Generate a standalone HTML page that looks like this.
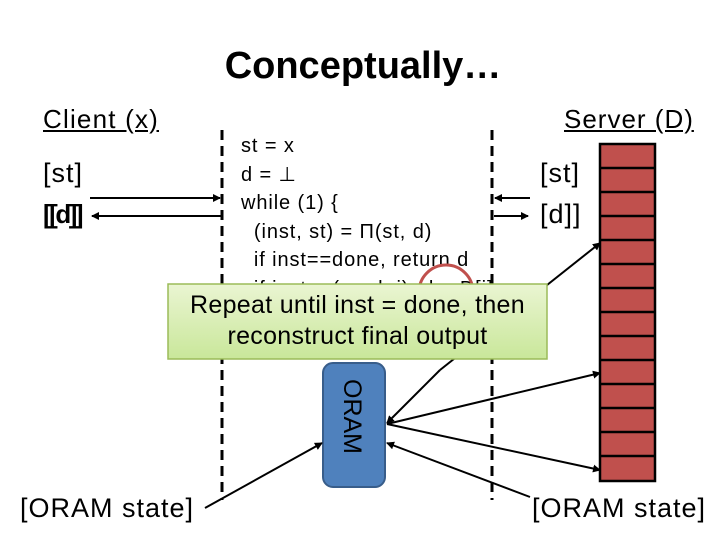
<!DOCTYPE html>
<html><head><style>
body{margin:0;width:720px;height:540px;background:#fff;overflow:hidden;position:relative;font-family:"Liberation Sans",sans-serif;}
.t{position:absolute;white-space:nowrap;color:#000;}
</style></head><body>
<div class="t" style="left:0;width:726px;text-align:center;top:45px;font-size:38px;font-weight:bold;">Conceptually…</div>
<div class="t" style="left:43px;top:104px;font-size:26px;letter-spacing:1.2px;text-decoration:underline;">Client (x)</div>
<div class="t" style="left:564px;top:104px;font-size:26px;letter-spacing:1px;text-decoration:underline;">Server (D)</div>
<div class="t" style="left:43px;top:158px;font-size:27px;letter-spacing:1px;">[st]</div>
<div class="t" style="left:43px;top:199px;font-size:26px;font-weight:bold;letter-spacing:-2.5px;">[[d]]</div>
<div class="t" style="left:540px;top:158px;font-size:27px;letter-spacing:1px;">[st]</div>
<div class="t" style="left:540px;top:199px;font-size:27px;letter-spacing:1px;">[d]]</div>
<div class="t" style="left:241px;top:132px;font-size:20px;letter-spacing:0.9px;line-height:28.5px;">st = x<br>d = ⊥<br>while (1) {<br>&nbsp;&nbsp;(inst, st) = Π(st, d)<br>&nbsp;&nbsp;if inst==done, return d<br>&nbsp;&nbsp;if inst = (read, i), d = D[i]</div>
<div class="t" style="left:20px;top:493px;font-size:27px;letter-spacing:1px;">[ORAM state]</div>
<div class="t" style="left:532px;top:493px;font-size:27px;letter-spacing:1px;">[ORAM state]</div>
<svg width="720" height="540" style="position:absolute;left:0;top:0">
<defs><marker id="a" markerWidth="8" markerHeight="8" refX="7" refY="4" orient="auto" markerUnits="userSpaceOnUse"><path d="M0,0L8,4L0,8z" fill="#000"/></marker></defs>
<circle cx="446" cy="292" r="27" fill="none" stroke="#c0504d" stroke-width="3"/>
<g stroke="#000" stroke-width="3" stroke-dasharray="10,6"><line x1="222" y1="130" x2="222" y2="500"/><line x1="492" y1="130" x2="492" y2="500"/></g>
<g stroke="#000" stroke-width="2" fill="none">
<line x1="90" y1="198" x2="220" y2="198" marker-end="url(#a)"/>
<polyline points="222,216 180,216 92,216" marker-end="url(#a)"/>
<line x1="530" y1="198" x2="495" y2="198" marker-end="url(#a)"/>
<polyline points="494,216 528,216" marker-end="url(#a)"/>
</g>
<g fill="#c0504d" stroke="#000" stroke-width="2.5">
<rect x="600" y="144" width="55" height="337"/>
</g>
<g stroke="#000" stroke-width="2.5">
<line x1="600" y1="168" x2="655" y2="168"/><line x1="600" y1="192" x2="655" y2="192"/><line x1="600" y1="216" x2="655" y2="216"/><line x1="600" y1="240" x2="655" y2="240"/><line x1="600" y1="264" x2="655" y2="264"/><line x1="600" y1="288" x2="655" y2="288"/><line x1="600" y1="312" x2="655" y2="312"/><line x1="600" y1="336" x2="655" y2="336"/><line x1="600" y1="360" x2="655" y2="360"/><line x1="600" y1="384" x2="655" y2="384"/><line x1="600" y1="408" x2="655" y2="408"/><line x1="600" y1="432" x2="655" y2="432"/><line x1="600" y1="456" x2="655" y2="456"/>
</g>
<rect x="323" y="363" width="62" height="124" rx="10" fill="#4f81bd" stroke="#385d8a" stroke-width="2"/>
<text x="0" y="0" transform="translate(344,379) rotate(90)" font-family="Liberation Sans" font-size="25" fill="#000">ORAM</text>
<g stroke="#000" stroke-width="2" fill="none">
<line x1="440" y1="370" x2="600" y2="243" marker-end="url(#a)"/>
<line x1="440" y1="370" x2="387" y2="423" marker-end="url(#a)"/>
<line x1="387" y1="424" x2="600" y2="373" marker-end="url(#a)"/>
<line x1="387" y1="424" x2="600" y2="470" marker-end="url(#a)"/>
<line x1="530" y1="497" x2="387" y2="443" marker-end="url(#a)"/>
<line x1="205" y1="508" x2="322" y2="443" marker-end="url(#a)"/>
</g>
<defs><linearGradient id="g" x1="0" y1="0" x2="0" y2="1"><stop offset="0" stop-color="#eaf5d2"/><stop offset="1" stop-color="#c9e79a"/></linearGradient></defs>
<rect x="168" y="284" width="379" height="75" fill="url(#g)" stroke="#9bbb59" stroke-width="1.5"/>
</svg>
<div class="t" style="left:168px;width:379px;text-align:center;top:290px;font-size:25px;letter-spacing:0.3px;line-height:31px;">Repeat until inst = done, then<br>reconstruct final output</div>
</body></html>
